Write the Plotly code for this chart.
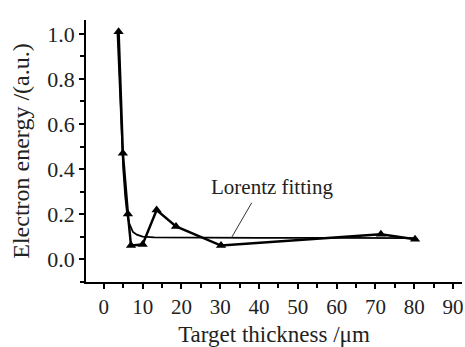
import plotly.graph_objects as go

# measured data (target thickness in um, electron energy in a.u.)
thickness = [3.8, 4.9, 6.2, 7.0, 10.0, 13.6, 18.6, 30.2, 71.4, 80.2]
energy = [1.01, 0.47, 0.20, 0.06, 0.065, 0.218, 0.145, 0.06, 0.11, 0.088]

# Lorentz fitting curve
fit_x = [3.5, 4.0, 4.5, 5.0, 5.5, 6.0, 6.5, 7.0, 7.5, 8.5, 10.0, 13.0, 20.0, 40.0, 60.0, 80.0]
fit_y = [1.01, 0.80, 0.58, 0.40, 0.28, 0.20, 0.16, 0.135, 0.12, 0.108, 0.10, 0.096, 0.095, 0.094, 0.094, 0.093]

x_ticks = [0, 10, 20, 30, 40, 50, 60, 70, 80, 90]
y_ticks = [0.0, 0.2, 0.4, 0.6, 0.8, 1.0]

label_text = "Lorentz fitting"
label_pos = (43.4, 0.32)
leader_from = (38.1, 0.25)
leader_to = (32.9, 0.095)

font = "Liberation Serif, Times New Roman, serif"

fig = go.Figure()
fig.add_trace(go.Scatter(x=fit_x, y=fit_y, mode="lines",
                         line=dict(color="black", width=1.8), showlegend=False))
fig.add_trace(go.Scatter(x=thickness, y=energy, mode="lines+markers",
                         line=dict(color="black", width=2.5),
                         marker=dict(symbol="triangle-up", size=9, color="black"),
                         showlegend=False))

fig.add_annotation(x=label_pos[0], y=label_pos[1], text=label_text, showarrow=False,
                   font=dict(family=font, size=21, color="#222"))
fig.add_shape(type="line", x0=leader_from[0], y0=leader_from[1], x1=leader_to[0], y1=leader_to[1],
              line=dict(color="#333", width=1))

fig.update_xaxes(range=[-4.6, 92.3], tickmode="array", tickvals=x_ticks,
                 ticktext=[str(v) for v in x_ticks], automargin=False,
                 ticks="outside", ticklen=5, tickwidth=1.5, tickcolor="black",
                 minor=dict(dtick=5, ticks="outside", ticklen=4, tickwidth=1.5, tickcolor="black"),
                 showline=True, linecolor="black", linewidth=1.5, showgrid=False, zeroline=False,
                 title=dict(text="Target thickness /μm", font=dict(family=font, size=23, color="#222"), standoff=8),
                 tickfont=dict(family=font, size=21, color="#222"))
fig.update_yaxes(range=[-0.102, 1.062], tickmode="array", tickvals=y_ticks,
                 ticktext=[f"{v:.1f}" for v in y_ticks], automargin=False,
                 ticks="outside", ticklen=5, tickwidth=1.5, tickcolor="black",
                 minor=dict(dtick=0.1, ticks="outside", ticklen=4, tickwidth=1.5, tickcolor="black"),
                 showline=True, linecolor="black", linewidth=1.5, showgrid=False, zeroline=False,
                 title=dict(text="Electron energy /(a.u.)", font=dict(family=font, size=24, color="#222"), standoff=11),
                 tickfont=dict(family=font, size=22, color="#222"))

fig.update_layout(width=465, height=347, margin=dict(l=86, r=3, t=20, b=65),
                  plot_bgcolor="white", paper_bgcolor="white")

fig.write_html("out.html", config={"displayModeBar": False},
               post_script="document.body.style.margin='0';")
